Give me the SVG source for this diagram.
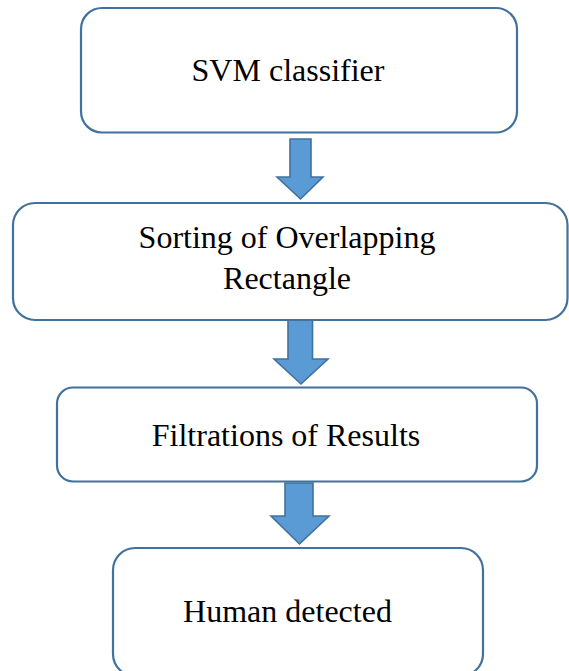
<svg xmlns="http://www.w3.org/2000/svg" width="569" height="671" viewBox="0 0 569 671">
  <style>
    .box { fill: #ffffff; stroke: #41719c; stroke-width: 2.2; }
    .arrow { fill: #5b9bd5; stroke: #41719c; stroke-width: 1.6; stroke-linejoin: miter; }
    .label { font-family: "Liberation Serif", "Times New Roman", serif; font-size: 32px; fill: #000000; text-anchor: middle; }
  </style>
  <rect width="569" height="671" fill="#ffffff"/>

  <g id="connectors">
    <polygon class="arrow" points="290,139 311,139 311,177 323,177 300.5,199 277,177 290,177"/>
    <polygon class="arrow" points="288,319 312.5,319 312.5,359 328,359 301,384 274,359 288,359"/>
    <polygon class="arrow" points="285,483 313,483 313,516 329,516 299.5,544 271,516 285,516"/>
  </g>

  <g id="svm-classifier">
    <rect class="box" x="81" y="8" width="436" height="124.5" rx="21"/>
    <text class="label" x="288" y="81">SVM classifier</text>
  </g>

  <g id="sorting-overlapping">
    <rect class="box" x="13" y="203" width="554.5" height="117" rx="22"/>
    <text class="label" x="287" y="248">Sorting of Overlapping</text>
    <text class="label" x="287" y="289">Rectangle</text>
  </g>

  <g id="filtration-results">
    <rect class="box" x="57" y="387.5" width="480" height="94" rx="16"/>
    <text class="label" x="286" y="445.5">Filtrations of Results</text>
  </g>

  <g id="human-detected">
    <rect class="box" x="113" y="548" width="370" height="128" rx="22"/>
    <text class="label" x="287.5" y="621.5">Human detected</text>
  </g>
</svg>
